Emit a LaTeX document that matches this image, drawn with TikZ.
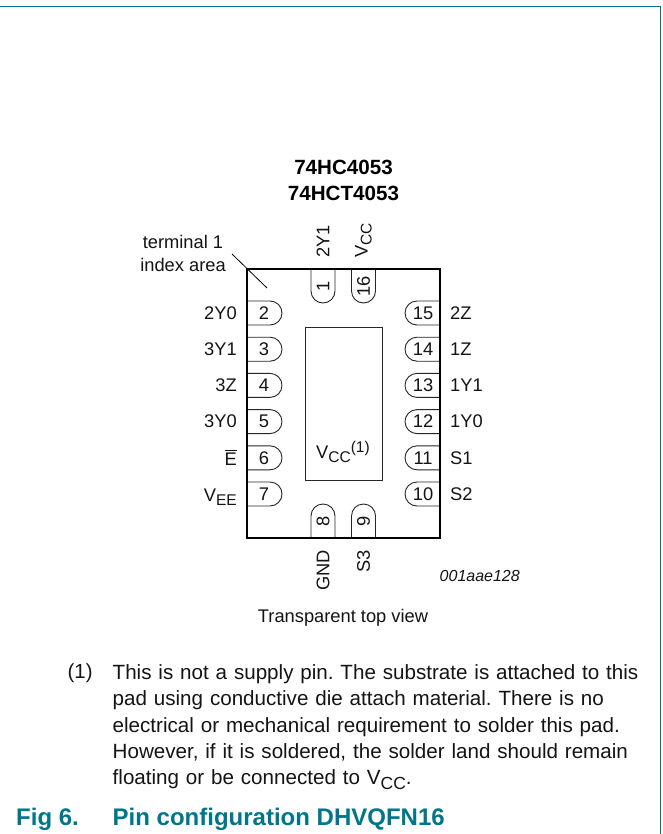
\documentclass[tikz,border=0pt]{standalone}
\usepackage{fontspec}
\setmainfont{Liberation Sans}
\frenchspacing
\definecolor{nxp}{RGB}{0,118,140}
\newcommand{\lowtxt}[2]{\raisebox{-0.22em}{\fontsize{#1}{#1}\selectfont #2}}
\tikzset{
  pinbox/.style={draw=black!85,line width=0.9pt,fill=white},
  lbl/.style={inner sep=0pt,font=\fontsize{18.3}{23}\selectfont,text=black!92},
  num/.style={inner sep=0pt,font=\fontsize{18.3}{19}\selectfont,text=black!92},
}
\begin{document}
\begin{tikzpicture}[x=1pt,y=-1pt]
\useasboundingbox (0,0) rectangle (662,834);
\fill[white] (0,0) rectangle (662,834);
\draw[nxp,line width=1.3pt] (0,6.5) -- (660.3,6.5) -- (660.3,834);
% package
\coordinate (leadA) at (232,254);
\coordinate (leadB) at (267,288);
\node[inner sep=0pt,font=\bfseries\fontsize{20.6}{26}\selectfont,align=center] (title) at (343.5,180) {74HC4053\\74HCT4053};
\node[lbl,align=center] (term) at (183,253.5) {terminal 1\\index area};
% left pins
\foreach \n/\t/\y/\dy in {2/2Y0/313/0,3/3Y1/349.2/0,4/3Z/385.4/0,5/3Y0/421.6/0,6/$\overline{\mbox{\rule{0pt}{0.78em}E}}$/457.8/0,7/{V\lowtxt{15.5}{EE}}/494/3}{
  \draw[pinbox] (247,\y-12) -- (270,\y-12) arc[start angle=-90,end angle=90,radius=12] -- (247,\y+12);
  \node[num] (p\n) at (264,\y) {\n};
  \node[lbl,anchor=east] (l\n) at (237,\y+\dy) {\t};
}
% right pins
\foreach \n/\t/\y in {15/2Z/313,14/1Z/349.2,13/1Y1/385.4,12/1Y0/421.6,11/S1/457.8,10/S2/494}{
  \draw[pinbox] (440,\y-12) -- (417,\y-12) arc[start angle=270,end angle=90,radius=12] -- (440,\y+12);
  \node[num] (p\n) at (423,\y) {\n};
  \node[lbl,anchor=west] (l\n) at (450,\y) {\t};
}
% top pins
\foreach \n/\t/\x in {1/2Y1/323,16/{V\lowtxt{15.5}{CC}}/363.5}{
  \draw[pinbox] (\x-12,269) -- (\x-12,291) arc[start angle=180,end angle=0,radius=12] -- (\x+12,269);
  \node[num,rotate=90] (p\n) at (\x,286) {\n};
  \node[lbl,rotate=90,anchor=west] (l\n) at (\x,258) {\t};
}
% bottom pins
\foreach \n/\t/\x in {8/GND/323,9/S3/363.5}{
  \draw[pinbox] (\x-12,538) -- (\x-12,516) arc[start angle=180,end angle=360,radius=12] -- (\x+12,538);
  \node[num,rotate=90] (p\n) at (\x,521) {\n};
  \node[lbl,rotate=90,anchor=east] (l\n) at (\x,550) {\t};
}
\draw[black!85,line width=1pt] (305,327) rectangle (382,480);
\node[lbl,anchor=west] (vcc) at (316,452) {V\lowtxt{15.5}{CC}\raisebox{0.35em}{\fontsize{15.5}{15.5}\selectfont (1)}};
\draw[line width=2.4pt] (247,269) rectangle (440,538);
\draw[line width=0.8pt] (leadA) -- (leadB);
\node[lbl,font=\itshape\fontsize{16}{18}\selectfont,anchor=east] (code) at (520,575.5) {001aae128};
\node[lbl] (view) at (343,618) {Transparent top view};
% note
\node[inner sep=0pt,anchor=base west,font=\fontsize{20.4}{27}\selectfont,text=black!92] (n1) at (67.5,678) {(1)};
\node[inner sep=0pt,anchor=north west,align=left,text width=545pt,font=\fontsize{20.6}{26.45}\selectfont,text=black!92] (note) at (112.5,664) {This is not a supply pin. The substrate is attached to this\\pad using conductive die attach material. There is no\\electrical or mechanical requirement to solder this pad.\\However, if it is soldered, the solder land should remain\\floating or be connected to V\lowtxt{17.5}{CC}.};
\node[inner sep=0pt,anchor=base west,text=nxp,font=\bfseries\fontsize{24}{24}\selectfont] (figno) at (16,825) {Fig 6.};
\node[inner sep=0pt,anchor=base west,text=nxp,font=\bfseries\fontsize{24}{24}\selectfont] (figt) at (112.5,825) {Pin configuration DHVQFN16};
\end{tikzpicture}
\end{document}
